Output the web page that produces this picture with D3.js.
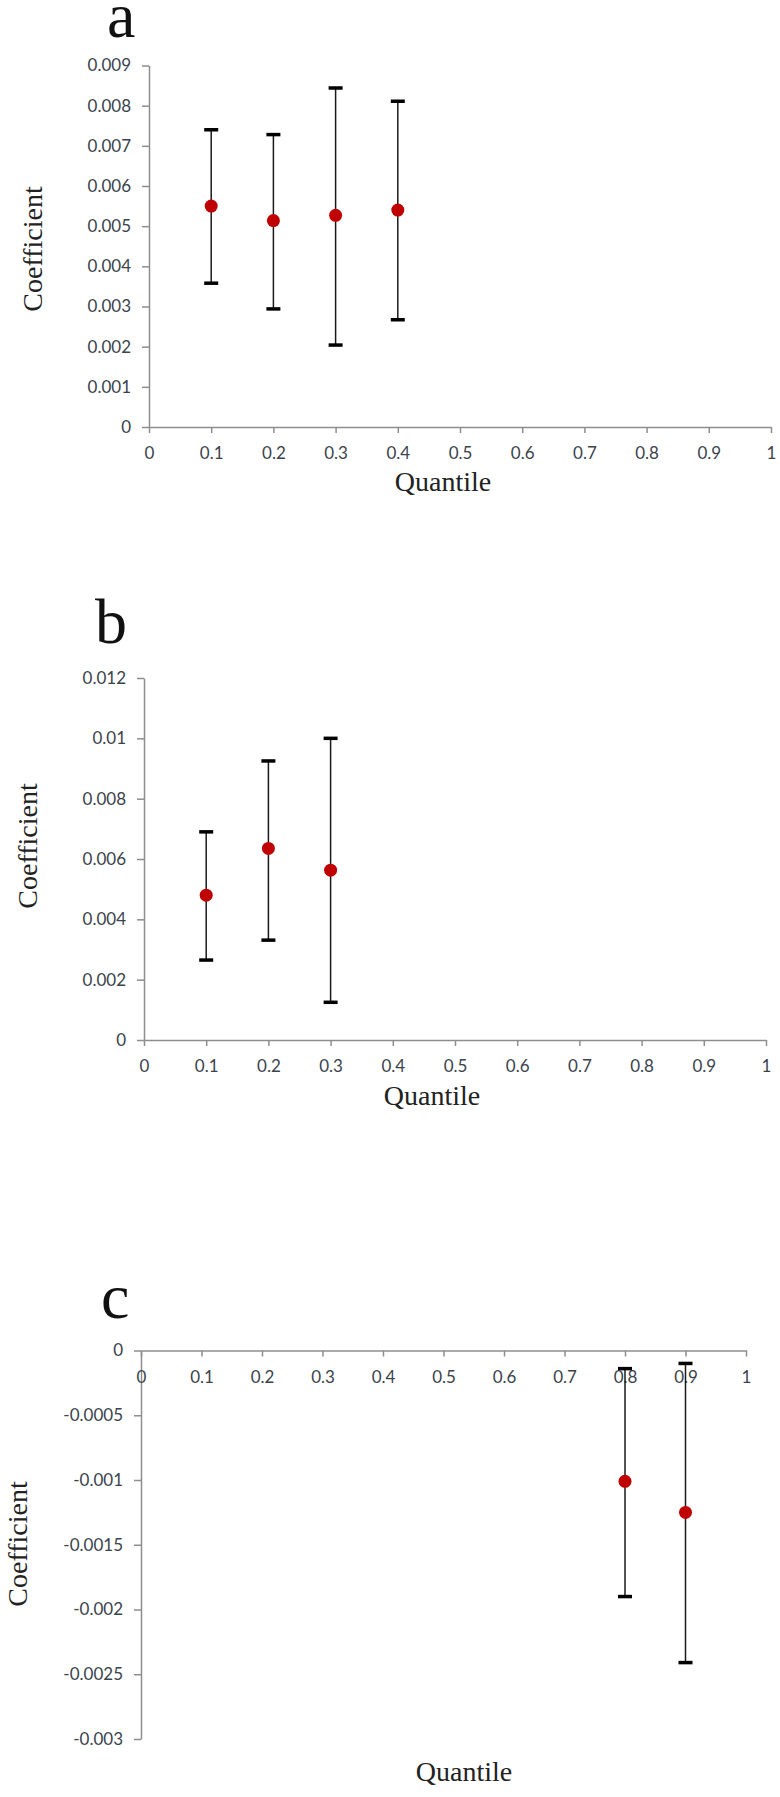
<!DOCTYPE html>
<html>
<head>
<meta charset="utf-8">
<script src="https://cdn.jsdelivr.net/npm/d3@7"></script>
<style>
  body { margin: 0; background: #fff; }
  .tick text { font-family: Lato, "Open Sans", sans-serif; font-size: 17px; fill: #3b434c; }
  .tick line, .domain { stroke: #8e8e8e; stroke-width: 1.5; }
</style>
</head>
<body>
<div id="chart"></div>
<script>
// x ticks shared by all three panels
var xTicks = [0, 0.1, 0.2, 0.3, 0.4, 0.5, 0.6, 0.7, 0.8, 0.9, 1];
var xTickLabels = ["0", "0.1", "0.2", "0.3", "0.4", "0.5", "0.6", "0.7", "0.8", "0.9", "1"];

// panel a
var quantA = [0.1, 0.2, 0.3, 0.4];
var coefA = [0.0055, 0.00514, 0.00527, 0.0054];
var lowA = [0.00358, 0.00294, 0.00204, 0.00267];
var highA = [0.0074, 0.00728, 0.00844, 0.00811];
var yTicksA = [0, 0.001, 0.002, 0.003, 0.004, 0.005, 0.006, 0.007, 0.008, 0.009];
var yLabelsA = ["0", "0.001", "0.002", "0.003", "0.004", "0.005", "0.006", "0.007", "0.008", "0.009"];

// panel b
var quantB = [0.1, 0.2, 0.3];
var coefB = [0.0048, 0.00635, 0.00563];
var lowB = [0.00265, 0.00331, 0.00125];
var highB = [0.0069, 0.00925, 0.01];
var yTicksB = [0, 0.002, 0.004, 0.006, 0.008, 0.01, 0.012];
var yLabelsB = ["0", "0.002", "0.004", "0.006", "0.008", "0.01", "0.012"];

// panel c
var quantC = [0.8, 0.9];
var coefC = [-0.00101, -0.00125];
var lowC = [-0.0019, -0.00241];
var highC = [-0.00014, -0.0001];
var yTicksC = [0, -0.0005, -0.001, -0.0015, -0.002, -0.0025, -0.003];
var yLabelsC = ["0", "-0.0005", "-0.001", "-0.0015", "-0.002", "-0.0025", "-0.003"];

var svg = d3.select("#chart")
    .append("svg")
    .attr("width", 780)
    .attr("height", 1797)
    .style("background", "#fff");

var serif = "'Liberation Serif', 'Times New Roman', serif";

var panels = [
  { letter: "a", q: quantA, c: coefA, lo: lowA, hi: highA, yt: yTicksA, yl: yLabelsA,
    yDomain: [0, 0.009], xRange: [149, 771], yRange: [427, 65.5],
    letterPos: [107, 37], coefPos: [42, 249], quantPos: [443, 491] },
  { letter: "b", q: quantB, c: coefB, lo: lowB, hi: highB, yt: yTicksB, yl: yLabelsB,
    yDomain: [0, 0.012], xRange: [144, 766], yRange: [1040, 678],
    letterPos: [95, 643], coefPos: [37, 846], quantPos: [432, 1105] },
  { letter: "c", q: quantC, c: coefC, lo: lowC, hi: highC, yt: yTicksC, yl: yLabelsC,
    yDomain: [0, -0.003], xRange: [141, 746], yRange: [1350.5, 1739],
    letterPos: [101, 1318], coefPos: [27, 1544], quantPos: [464, 1781] }
];

panels.forEach(function (p) {
  var x = d3.scaleLinear().domain([0, 1]).range(p.xRange);
  var y = d3.scaleLinear().domain(p.yDomain).range(p.yRange);
  var g = svg.append("g");

  // y axis
  g.append("g")
      .attr("transform", "translate(" + p.xRange[0] + ",0)")
      .call(d3.axisLeft(y)
          .tickValues(p.yt)
          .tickFormat(function (d, i) { return p.yl[i]; })
          .tickSize(7)
          .tickSizeOuter(0)
          .tickPadding(11));

  // x axis sits at y = 0
  g.append("g")
      .attr("transform", "translate(0," + y(0) + ")")
      .call(d3.axisBottom(x)
          .tickValues(xTicks)
          .tickFormat(function (d, i) { return xTickLabels[i]; })
          .tickSize(6)
          .tickSizeOuter(0)
          .tickPadding(14));

  var rows = p.q.map(function (q, i) {
    return { q: q, c: p.c[i], lo: p.lo[i], hi: p.hi[i] };
  });

  // error bar stems
  g.selectAll(".stem")
      .data(rows)
      .enter()
      .append("line")
      .attr("x1", function (d) { return x(d.q); })
      .attr("x2", function (d) { return x(d.q); })
      .attr("y1", function (d) { return y(d.lo); })
      .attr("y2", function (d) { return y(d.hi); })
      .attr("stroke", "#1a1a1a")
      .attr("stroke-width", 1.5);

  // caps
  ["lo", "hi"].forEach(function (k) {
    g.selectAll(".cap-" + k)
        .data(rows)
        .enter()
        .append("line")
        .attr("x1", function (d) { return x(d.q) - 7; })
        .attr("x2", function (d) { return x(d.q) + 7; })
        .attr("y1", function (d) { return y(d[k]); })
        .attr("y2", function (d) { return y(d[k]); })
        .attr("stroke", "#000")
        .attr("stroke-width", 3.5);
  });

  // points
  g.selectAll("circle")
      .data(rows)
      .enter()
      .append("circle")
      .attr("cx", function (d) { return x(d.q); })
      .attr("cy", function (d) { return y(d.c); })
      .attr("r", 6.5)
      .style("fill", "#c00000");

  g.append("text")
      .attr("x", p.letterPos[0])
      .attr("y", p.letterPos[1])
      .text(p.letter)
      .style("font-size", "64px")
      .attr("font-family", serif)
      .attr("fill", "#111");

  g.append("text")
      .attr("transform", "translate(" + p.coefPos[0] + "," + p.coefPos[1] + ") rotate(-90)")
      .attr("text-anchor", "middle")
      .text("Coefficient")
      .style("font-size", "28px")
      .attr("font-family", serif)
      .attr("fill", "#222");

  g.append("text")
      .attr("x", p.quantPos[0])
      .attr("y", p.quantPos[1])
      .attr("text-anchor", "middle")
      .text("Quantile")
      .style("font-size", "28px")
      .attr("font-family", serif)
      .attr("fill", "#222");
});
</script>
</body>
</html>
